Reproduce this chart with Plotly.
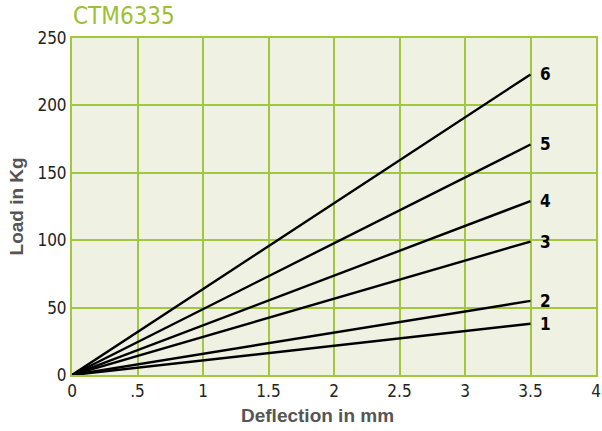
import plotly.graph_objects as go

x_start = 0
x_end = 3.5
series_names = ["1", "2", "3", "4", "5", "6"]
end_loads = [38, 55, 99, 129, 171, 223]
x_tickvals = [0, 0.5, 1, 1.5, 2, 2.5, 3, 3.5, 4]
x_ticktext = ["0", ".5", "1", "1.5", "2", "2.5", "3", "3.5", "4"]
y_tickvals = [0, 50, 100, 150, 200, 250]

GREEN = "#a2c63e"
NARROW = "DejaVu Sans Condensed, Liberation Sans Narrow, sans-serif"
BOLD = "Arial, Liberation Sans, sans-serif"

fig = go.Figure()
for name, val in zip(series_names, end_loads):
    fig.add_trace(go.Scatter(x=[x_start, x_end], y=[0, val], mode="lines",
                             line=dict(color="black", width=2.4), name=name,
                             showlegend=False, hoverinfo="skip"))
    fig.add_annotation(x=x_end, y=val, text="<b>%s</b>" % name, showarrow=False,
                       xshift=15, xanchor="center", yanchor="middle",
                       font=dict(family=NARROW, size=17, color="black"))

fig.add_annotation(xref="paper", yref="paper", x=-0.002, y=1.064,
                   xanchor="left", yanchor="middle", text="CTM6335", showarrow=False,
                   font=dict(family=NARROW, size=24, color="#9cbf34"))
fig.add_annotation(xref="paper", yref="paper", x=0.4685, y=-0.121,
                   xanchor="center", yanchor="middle", text="<b>Deflection in mm</b>",
                   showarrow=False, font=dict(family=BOLD, size=19, color="#555"))
fig.add_annotation(xref="paper", yref="paper", x=-0.105, y=0.5, textangle=-90,
                   xanchor="center", yanchor="middle", text="<b>Load in Kg</b>",
                   showarrow=False, font=dict(family=BOLD, size=19, color="#555"))

fig.update_layout(
    width=602, height=431,
    margin=dict(l=72, r=6, t=38, b=56),
    paper_bgcolor="white", plot_bgcolor="#eff1e2",
    xaxis=dict(range=[0, 4], tickvals=x_tickvals, ticktext=x_ticktext,
               automargin=False,
               showgrid=True, gridcolor=GREEN, gridwidth=2,
               showline=True, linecolor=GREEN, linewidth=2, mirror=True,
               zeroline=False, ticks="",
               tickfont=dict(family=NARROW, size=17, color="#222")),
    yaxis=dict(range=[0, 250], tickvals=y_tickvals,
               automargin=False,
               showgrid=True, gridcolor=GREEN, gridwidth=2,
               showline=True, linecolor=GREEN, linewidth=2, mirror=True,
               zeroline=False, ticks="",
               tickfont=dict(family=NARROW, size=17, color="#222")),
)
fig.write_html("out.html", config={"displayModeBar": False},
               post_script="document.body.style.margin='0px';")
